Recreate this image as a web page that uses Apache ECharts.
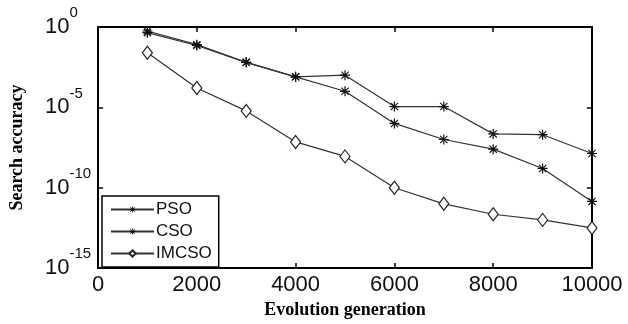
<!DOCTYPE html>
<html lang="en">
<head>
    <meta charset="UTF-8">
    <title>Search accuracy</title>
    <script type="text/javascript" src="https://cdn.jsdelivr.net/npm/echarts@6/dist/echarts.min.js"></script>
    <style>
        html, body { margin: 0; padding: 0; background: #fff; }
    </style>
</head>
<body>
    <div id="main" style="width: 628px;height:324px;"></div>
    <script type="text/javascript">
        // generations (x)
        var generations = [1000, 2000, 3000, 4000, 5000, 6000, 7000, 8000, 9000, 10000];

        // search accuracy, stored as log10 exponents
        var psoLog = [-0.25, -1.1, -2.2, -3.1, -3.0, -4.95, -4.95, -6.65, -6.7, -7.87];
        var csoLog = [-0.35, -1.15, -2.2, -3.1, -4.0, -6.0, -7.0, -7.6, -8.8, -10.85];
        var imcsoLog = [-1.6, -3.8, -5.22, -7.15, -8.05, -10.0, -11.0, -11.65, -12.0, -12.5];

        var seriesNames = ['PSO', 'CSO', 'IMCSO'];

        // '*' marker like matlab
        var starPath = 'path://M4.4,0H5.6V10H4.4Z M0,4.4H10V5.6H0Z M1,1.8L1.8,1L9,8.2L8.2,9Z M8.2,1L9,1.8L1.8,9L1,8.2Z';

        function pairs(ys) {
            var out = [];
            for (var i = 0; i < generations.length; i++) {
                out.push([generations[i], ys[i]]);
            }
            return out;
        }

        var myChart = echarts.init(document.getElementById('main'));

        var axisLine = { show: true, onZero: false, lineStyle: { color: '#000', width: 2 } };
        var axisTick = { show: true, inside: true, length: 5, lineStyle: { color: '#000', width: 1.5 } };

        var option = {
            animation: false,
            backgroundColor: '#fff',
            grid: { left: 95, right: 36, top: 27, bottom: 51 },
            legend: {
                orient: 'vertical',
                left: 102,
                top: 196,
                data: seriesNames,
                itemWidth: 43,
                itemHeight: 8,
                itemGap: 5,
                padding: [5, 7, 5, 8],
                borderColor: '#000',
                borderWidth: 1.5,
                backgroundColor: '#fff',
                textStyle: { fontFamily: 'Liberation Sans', fontSize: 17, lineHeight: 17, color: '#111', padding: [0, 0, 0, -3] }
            },
            xAxis: [{
                type: 'value',
                min: 0,
                max: 10000,
                interval: 2000,
                position: 'bottom',
                axisLine: axisLine,
                axisTick: axisTick,
                splitLine: { show: false },
                axisLabel: {
                    fontFamily: 'Liberation Sans', fontSize: 22, color: '#111', margin: 6,
                    formatter: function (v) { return String(v); }
                },
                name: 'Evolution generation',
                nameLocation: 'middle',
                nameGap: 30,
                nameTextStyle: { fontFamily: 'Liberation Serif', fontWeight: 'bold', fontSize: 18, color: '#000' }
            }, {
                type: 'value',
                min: 0,
                max: 10000,
                interval: 2000,
                position: 'top',
                axisLine: axisLine,
                axisTick: axisTick,
                splitLine: { show: false },
                axisLabel: { show: false }
            }],
            yAxis: [{
                type: 'value',
                min: -15,
                max: 0,
                interval: 5,
                position: 'left',
                axisLine: axisLine,
                axisTick: axisTick,
                splitLine: { show: false },
                axisLabel: {
                    align: 'left',
                    margin: 53,
                    formatter: function (v) {
                        return '{b|10}{s|' + v + '}';
                    },
                    rich: {
                        b: { fontFamily: 'Liberation Sans', fontSize: 22, color: '#111' },
                        s: { fontFamily: 'Liberation Sans', fontSize: 15, color: '#111', verticalAlign: 'top', padding: [0, 0, 28, 0] }
                    }
                },
                name: 'Search accuracy',
                nameLocation: 'middle',
                nameGap: 72,
                nameTextStyle: { fontFamily: 'Liberation Serif', fontWeight: 'bold', fontSize: 18, color: '#000' }
            }, {
                type: 'value',
                min: -15,
                max: 0,
                interval: 5,
                position: 'right',
                axisLine: axisLine,
                axisTick: axisTick,
                splitLine: { show: false },
                axisLabel: { show: false }
            }],
            series: [{
                name: 'PSO',
                type: 'line',
                data: pairs(psoLog),
                symbol: starPath,
                symbolSize: 10,
                lineStyle: { color: '#333', width: 1.2 },
                itemStyle: { color: '#111' }
            }, {
                name: 'CSO',
                type: 'line',
                data: pairs(csoLog),
                symbol: starPath,
                symbolSize: 10,
                lineStyle: { color: '#333', width: 1.2 },
                itemStyle: { color: '#111' }
            }, {
                name: 'IMCSO',
                type: 'line',
                data: pairs(imcsoLog),
                symbol: 'diamond',
                symbolSize: [10, 13],
                lineStyle: { color: '#333', width: 1.2 },
                itemStyle: { color: '#fff', borderColor: '#222', borderWidth: 1.2 }
            }]
        };

        myChart.setOption(option);
    </script>
</body>
</html>
